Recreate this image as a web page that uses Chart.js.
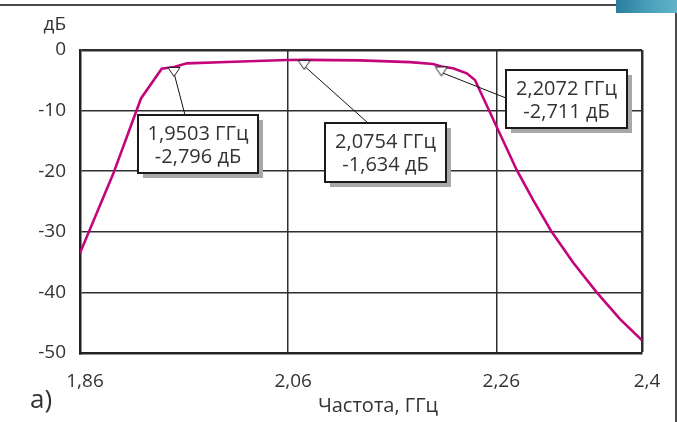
<!DOCTYPE html>
<html>
<head>
<meta charset="utf-8">
<script src="https://cdn.jsdelivr.net/npm/chart.js@4/dist/chart.umd.min.js"></script>
<style>
  html, body { margin: 0; padding: 0; background: #fff; }
  #wrap { position: relative; width: 677px; height: 422px; overflow: hidden; background: #fff; }
  #chart { position: absolute; left: 0; top: 0; }
  .frame-top { position: absolute; left: 0; top: 4px; width: 617px; height: 1.5px; background: #4a4a4a; }
  .frame-right { position: absolute; left: 675px; top: 13px; width: 1.5px; height: 409px; background: #4a4a4a; }
  .tab { position: absolute; left: 616px; top: 0; width: 61px; height: 13px;
         background: linear-gradient(90deg, #2a7d9d, #4ea3bd 60%, #62b3c8); }
</style>
</head>
<body>
<div id="wrap">
  <div class="frame-top"></div>
  <div class="frame-right"></div>
  <div class="tab"></div>
  <canvas id="chart" width="677" height="422"></canvas>
</div>
<script>
// Frequency response of the band-pass filter (insertion loss, dB)
const freqGHz = [1.86, 1.892, 1.9186, 1.9385, 1.9503, 1.9628, 2.001, 2.0586, 2.0754,
                 2.129, 2.1771, 2.1992, 2.2072, 2.2184, 2.2316, 2.2395, 2.2796, 2.2956,
                 2.3132, 2.334, 2.3565, 2.3789, 2.4];
const lossDb  = [-33.5, -20.4, -8.0, -3.1, -2.796, -2.2, -1.98, -1.65, -1.634,
                 -1.72, -2.0, -2.3, -2.711, -3.0, -3.85, -4.95, -19.8, -24.8,
                 -30.0, -35.1, -40.0, -44.4, -47.9];

// Marker readouts
const markerFreq = [1.9503, 2.0754, 2.2072];
const markerDb   = [-2.796, -1.634, -2.711];

// Axis ticks
const xTickValues = [1.86, 2.06, 2.26, 2.4];
const xTickLabels = ['1,86', '2,06', '2,26', '2,4'];
const yTickValues = [0, -10, -20, -30, -40, -50];
const yTickLabels = ['0', '-10', '-20', '-30', '-40', '-50'];

// Callout boxes: [left, top, width, height] and the point where the leader meets the box
const calloutBoxes = [
  { box: [138, 115, 120, 58], anchor: [185, 115] },
  { box: [325, 123, 121, 59], anchor: [368, 123] },
  { box: [506, 70, 121, 58], anchor: [506, 98] }
];

const FONT = '"Open Sans", "DejaVu Sans", sans-serif';
const TEXT = '#333';
const comma = s => s.replace('.', ',');

// Down-pointing triangle whose top edge sits on the marked point
function makeMarker() {
  const c = document.createElement('canvas');
  c.width = 14; c.height = 24;
  const g = c.getContext('2d');
  g.beginPath();
  g.moveTo(1, 12.5);
  g.lineTo(13, 12.5);
  g.lineTo(7, 21.5);
  g.closePath();
  g.fillStyle = '#fff';
  g.fill();
  g.lineWidth = 1;
  g.strokeStyle = '#222';
  g.stroke();
  return c;
}
const markerImg = makeMarker();

const calloutPlugin = {
  id: 'callouts',
  afterDatasetDraw(chart, args) {
    if (args.index !== 1) return;
    const ctx = chart.ctx, xs = chart.scales.x, ys = chart.scales.y;
    ctx.save();
    ctx.strokeStyle = '#111';
    ctx.lineWidth = 1;
    markerFreq.forEach((f, i) => {
      const px = xs.getPixelForValue(f), py = ys.getPixelForValue(markerDb[i]);
      ctx.beginPath();
      ctx.moveTo(px, py + 6);
      ctx.lineTo(calloutBoxes[i].anchor[0], calloutBoxes[i].anchor[1]);
      ctx.stroke();
    });
    ctx.restore();
  },
  afterDatasetsDraw(chart) {
    const ctx = chart.ctx;
    ctx.save();
    markerFreq.forEach((f, i) => {
      const [l, t, w, h] = calloutBoxes[i].box;
      ctx.fillStyle = '#a8a8a8';
      ctx.fillRect(l + 5, t + 5, w, h);
      ctx.fillStyle = '#fff';
      ctx.fillRect(l, t, w, h);
      ctx.strokeStyle = '#1a1a1a';
      ctx.lineWidth = 2;
      ctx.strokeRect(l, t, w, h);
      ctx.fillStyle = TEXT;
      ctx.font = '20px ' + FONT;
      ctx.textAlign = 'center';
      ctx.textBaseline = 'middle';
      ctx.fillText(comma(f.toFixed(4)) + ' ГГц', l + w / 2, t + 19);
      ctx.fillText(comma(markerDb[i].toFixed(3)) + ' дБ', l + w / 2, t + 42);
    });
    ctx.restore();
  },
  afterDraw(chart) {
    const ctx = chart.ctx;
    ctx.save();
    ctx.fillStyle = TEXT;
    ctx.font = '19px ' + FONT;
    ctx.textAlign = 'right';
    ctx.textBaseline = 'middle';
    ctx.fillText('дБ', 66, 25);
    ctx.textAlign = 'center';
    ctx.font = '20px ' + FONT;
    ctx.fillText('Частота, ГГц', 378, 406);
    ctx.textAlign = 'left';
    ctx.font = '26px ' + FONT;
    ctx.textBaseline = 'alphabetic';
    ctx.fillText('а)', 30, 408);
    ctx.restore();
  }
};

new Chart(document.getElementById('chart'), {
  type: 'line',
  data: {
    datasets: [
      {
        data: markerFreq.map((f, i) => ({ x: f, y: markerDb[i] })),
        showLine: false,
        pointStyle: markerImg,
        pointRadius: 6
      },
      {
        data: freqGHz.map((f, i) => ({ x: f, y: lossDb[i] })),
        borderColor: '#c4047b',
        borderWidth: 2.6,
        pointRadius: 0,
        tension: 0,
        fill: false
      }
    ]
  },
  options: {
    responsive: false,
    animation: false,
    devicePixelRatio: 1,
    layout: { padding: { left: 0, top: 50, right: 35, bottom: 0 } },
    plugins: { legend: { display: false }, tooltip: { enabled: false } },
    scales: {
      x: {
        type: 'linear',
        min: 1.86,
        max: 2.4,
        afterBuildTicks: s => { s.ticks = xTickValues.map(v => ({ value: v })); },
        afterFit: s => { s.height = 69; },
        ticks: {
          callback: (v) => xTickLabels[xTickValues.indexOf(v)],
          font: { family: FONT, size: 19 },
          color: TEXT,
          padding: 17,
          labelOffset: 5,
          maxRotation: 0,
          autoSkip: false
        },
        grid: {
          color: '#2e2e2e',
          lineWidth: c => (c.tick && c.tick.value === 2.4) ? 2.5 : 1.5,
          drawTicks: false
        },
        border: { display: true, color: '#222', width: 2.5 }
      },
      y: {
        type: 'linear',
        min: -50,
        max: 0,
        afterBuildTicks: s => { s.ticks = yTickValues.map(v => ({ value: v })); },
        afterFit: s => { s.width = 80; },
        ticks: {
          callback: (v) => yTickLabels[yTickValues.indexOf(v)],
          font: { family: FONT, size: 19 },
          color: TEXT,
          padding: 14
        },
        grid: {
          color: '#2e2e2e',
          lineWidth: c => (c.tick && c.tick.value === 0) ? 2.5 : 1.5,
          drawTicks: false
        },
        border: { display: true, color: '#222', width: 2.5 }
      }
    }
  },
  plugins: [calloutPlugin]
});
</script>
</body>
</html>
